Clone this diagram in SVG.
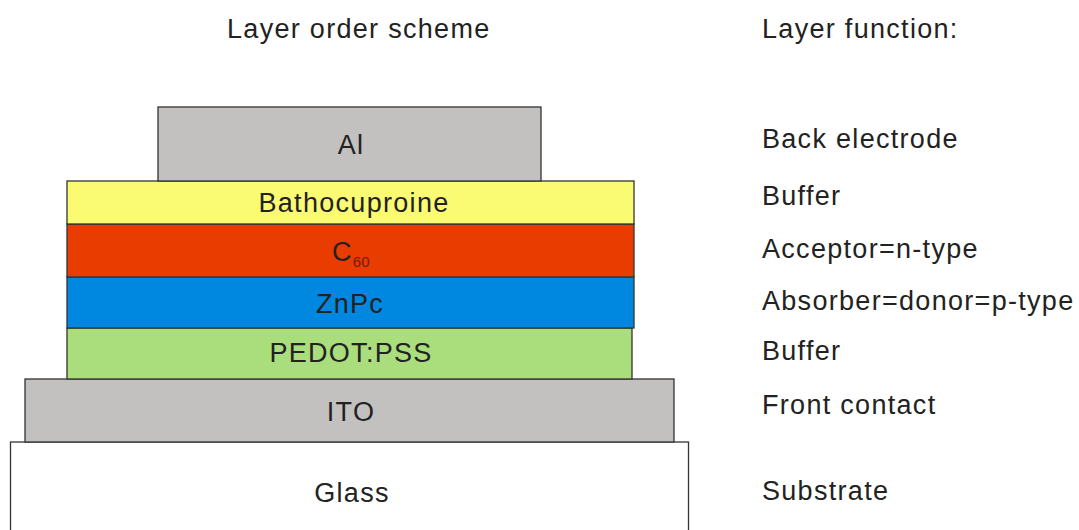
<svg xmlns="http://www.w3.org/2000/svg" width="1079" height="530" viewBox="0 0 1079 530">
<style>
text { font-family: "Liberation Sans", Arial, sans-serif; font-size: 27px; letter-spacing: 1.3px; fill: #222; }
.c { text-anchor: middle; }
.layer { stroke: #333; stroke-width: 1.3; }
.sub { font-size: 15px; letter-spacing: 0; fill: #6e1c00; }
</style>
<rect width="1079" height="530" fill="#fff"/>
<text id="title-left" x="227" y="38">Layer order scheme</text>
<text id="title-right" x="762" y="38">Layer function:</text>

<g id="glass">
  <rect class="layer" x="10.5" y="442" width="678" height="100" fill="#fff"/>
  <text class="c" x="352" y="502">Glass</text>
</g>
<g id="ito">
  <rect class="layer" x="25" y="379" width="649" height="63" fill="#c2c1bf"/>
  <text class="c" x="351" y="421">ITO</text>
</g>
<g id="pedot">
  <rect class="layer" x="67" y="328" width="565" height="51" fill="#aadd7b"/>
  <text class="c" x="351" y="362">PEDOT:PSS</text>
</g>
<g id="znpc">
  <rect class="layer" x="67" y="277" width="567" height="51" fill="#0088e0"/>
  <text class="c" x="350" y="313">ZnPc</text>
</g>
<g id="c60">
  <rect class="layer" x="67" y="224" width="567" height="53" fill="#e93c00"/>
  <text x="332" y="261">C<tspan class="sub" dy="6">60</tspan></text>
</g>
<g id="bathocuproine">
  <rect class="layer" x="67" y="181" width="567" height="43" fill="#fbfb73"/>
  <text class="c" x="354" y="212">Bathocuproine</text>
</g>
<g id="al">
  <rect class="layer" x="158" y="107" width="383" height="74" fill="#c2c1bf"/>
  <text class="c" x="351" y="154">Al</text>
</g>

<g id="functions">
  <text x="762" y="148">Back electrode</text>
  <text x="762" y="205">Buffer</text>
  <text x="762" y="258">Acceptor=n-type</text>
  <text x="762" y="310">Absorber=donor=p-type</text>
  <text x="762" y="360">Buffer</text>
  <text x="762" y="414">Front contact</text>
  <text x="762" y="500">Substrate</text>
</g>
<g id="connectors"></g>
</svg>
